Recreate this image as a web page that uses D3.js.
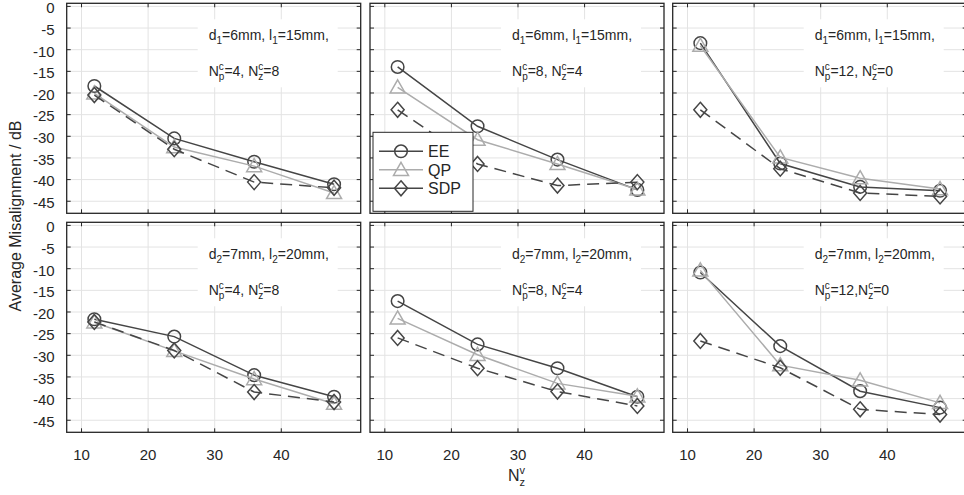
<!DOCTYPE html>
<html><head><meta charset="utf-8">
<script src="https://cdn.jsdelivr.net/npm/d3@7"></script>
<style>
body{margin:0;background:#fff;}
svg{font-family:"Liberation Sans",Arial,sans-serif;display:block;}
</style></head>
<body><svg id="c" width="964" height="495"></svg>
<script>
// ---- data ----
const nzv = [12, 24, 36, 48];
const EE = [
  [-18.5, -30.6, -36.0, -41.2],
  [-14.1, -27.8, -35.5, -42.5],
  [-8.6, -36.4, -41.8, -42.7],
  [-21.8, -25.8, -34.7, -39.7],
  [-17.6, -27.6, -33.1, -39.7],
  [-11.0, -28.0, -38.4, -42.2]
];
const QP = [
  [-20.2, -32.6, -37.0, -43.2],
  [-18.8, -30.9, -36.5, -42.4],
  [-9.2, -35.0, -39.8, -42.3],
  [-22.5, -29.1, -35.6, -41.3],
  [-21.6, -30.0, -36.6, -39.6],
  [-10.5, -32.4, -35.9, -41.1]
];
const SDP = [
  [-20.6, -33.1, -40.7, -42.0],
  [-24.0, -36.5, -41.5, -40.7],
  [-24.0, -37.6, -43.2, -44.0],
  [-22.4, -29.0, -38.6, -40.9],
  [-26.1, -33.1, -38.5, -41.8],
  [-26.8, -33.0, -42.6, -43.8]
];
const seriesNames = ["EE", "QP", "SDP"];
const npc = ["4", "8", "12", "4", "8", "12"];
const nzc = ["8", "4", "0", "8", "4", "0"];
const npSep = [", ", ", ", ", ", ", ", ", ", ","];
const dRow = ["6", "7"];
const lRow = ["15", "20"];
const rowSub = ["1", "2"];
const xTicks = [10, 20, 30, 40];
const yTicks = [0, -5, -10, -15, -20, -25, -30, -35, -40, -45];

// ---- layout ----
const svg = d3.select("#c");
const lefts = [66.7, 370, 672.7];
const tops = [3.3, 222.3];
const W = 294, H = 210;
const x = d3.scaleLinear().domain([7.85, 52]).range([0, W]);
const y = d3.scaleLinear().domain([-47.9, 0.6]).range([H, 0]);
const dark = "#454545", light = "#acacac", axisCol = "#262626", gridCol = "#e3e3e3";
const styles = [
  {c: dark, dash: null, m: "circle"},
  {c: light, dash: null, m: "triangle"},
  {c: dark, dash: "12,7", m: "diamond"}
];
const allData = [EE, QP, SDP];

function marker(g, type, cx, cy, col) {
  if (type === "circle") {
    g.append("circle").attr("cx", cx).attr("cy", cy).attr("r", 6.3)
      .attr("fill", "none").attr("stroke", col).attr("stroke-width", 1.5);
  } else if (type === "triangle") {
    const s = 7.5;
    g.append("path").attr("d", `M${cx},${cy - s}L${cx + s},${cy + s * 0.75}L${cx - s},${cy + s * 0.75}Z`)
      .attr("fill", "none").attr("stroke", col).attr("stroke-width", 1.5);
  } else {
    const a = 6.5, b = 7.5;
    g.append("path").attr("d", `M${cx},${cy - b}L${cx + a},${cy}L${cx},${cy + b}L${cx - a},${cy}Z`)
      .attr("fill", "none").attr("stroke", col).attr("stroke-width", 1.5);
  }
}

for (let r = 0; r < 2; r++) {
  for (let c = 0; c < 3; c++) {
    const idx = r * 3 + c;
    const g = svg.append("g").attr("transform", `translate(${lefts[c]},${tops[r]})`);
    // grid
    g.append("g").attr("transform", `translate(0,${H})`)
      .call(d3.axisBottom(x).tickValues(xTicks).tickSize(-H).tickFormat(""))
      .call(a => { a.select(".domain").remove(); a.selectAll("line").attr("stroke", gridCol); });
    g.append("g")
      .call(d3.axisLeft(y).tickValues(yTicks).tickSize(-W).tickFormat(""))
      .call(a => { a.select(".domain").remove(); a.selectAll("line").attr("stroke", gridCol); });

    // annotation
    const ag = g.append("g").attr("transform", "translate(142,0)");
    ag.append("rect").attr("x", -11).attr("y", 16).attr("width", 140).attr("height", 68).attr("fill", "#fff");
    const fs = 14, ss = 10;
    const t1 = ag.append("text").attr("x", 0).attr("y", 37).attr("font-size", fs).attr("fill", axisCol);
    t1.append("tspan").text("d");
    t1.append("tspan").attr("font-size", ss).attr("dy", 4).text(rowSub[r]);
    t1.append("tspan").attr("dy", -4).text("=" + dRow[r] + "mm, l");
    t1.append("tspan").attr("font-size", ss).attr("dy", 4).text(rowSub[r]);
    t1.append("tspan").attr("dy", -4).text("=" + lRow[r] + "mm,");
    const t2 = ag.append("text").attr("x", 0).attr("y", 73).attr("font-size", fs).attr("fill", axisCol);
    t2.append("tspan").text("N");
    t2.append("tspan").attr("font-size", ss).attr("dy", -6).text("c");
    t2.append("tspan").attr("font-size", ss).attr("dx", -5).attr("dy", 10).text("p");
    t2.append("tspan").attr("dy", -4).text("=" + npc[idx] + npSep[idx] + "N");
    t2.append("tspan").attr("font-size", ss).attr("dy", -6).text("c");
    t2.append("tspan").attr("font-size", ss).attr("dx", -5).attr("dy", 10).text("z");
    t2.append("tspan").attr("dy", -4).text("=" + nzc[idx]);

    // series
    allData.forEach((D, si) => {
      const st = styles[si];
      const vals = D[idx];
      const line = d3.line().x((d, i) => x(nzv[i])).y(d => y(d));
      g.append("path").datum(vals).attr("d", line).attr("fill", "none")
        .attr("stroke", st.c).attr("stroke-width", 1.5)
        .attr("stroke-dasharray", st.dash);
      vals.forEach((v, i) => marker(g, st.m, x(nzv[i]), y(v), st.c));
    });

    // inward ticks
    const tk = a => a.call(s => { s.select(".domain").remove(); s.selectAll("line").attr("stroke", axisCol); });
    g.append("g").attr("transform", `translate(0,${H})`).call(d3.axisBottom(x).tickValues(xTicks).tickSize(-4).tickFormat("")).call(tk);
    g.append("g").call(d3.axisTop(x).tickValues(xTicks).tickSize(-4).tickFormat("")).call(tk);
    g.append("g").call(d3.axisLeft(y).tickValues(yTicks).tickSize(-4).tickFormat("")).call(tk);
    g.append("g").attr("transform", `translate(${W},0)`).call(d3.axisRight(y).tickValues(yTicks).tickSize(-4).tickFormat("")).call(tk);

    // labels
    if (c === 0) {
      g.append("g").attr("transform", "translate(0,2)")
        .call(d3.axisLeft(y).tickValues(yTicks).tickSize(0).tickPadding(12).tickFormat(d => String(d)))
        .call(a => { a.select(".domain").remove(); a.selectAll("text").attr("font-size", 15).attr("fill", axisCol).attr("font-family", "Liberation Sans, Arial, sans-serif"); });
    }
    if (r === 1) {
      g.append("g").attr("transform", `translate(0,${H})`)
        .call(d3.axisBottom(x).tickValues(xTicks).tickSize(0).tickPadding(17).tickFormat(d => String(d)))
        .call(a => { a.select(".domain").remove(); a.selectAll("text").attr("font-size", 15).attr("fill", axisCol).attr("font-family", "Liberation Sans, Arial, sans-serif"); });
    }

    // border
    g.append("rect").attr("width", W).attr("height", H).attr("fill", "none")
      .attr("stroke", axisCol).attr("stroke-width", 1.3);

    // legend
    if (idx === 1) {
      const lg = g.append("g").attr("transform", "translate(3,129)");
      lg.append("rect").attr("width", 100).attr("height", 79).attr("fill", "#fff")
        .attr("stroke", axisCol).attr("stroke-width", 1);
      seriesNames.forEach((nm, si) => {
        const st = styles[si];
        const yy = 19 + si * 18.5;
        lg.append("line").attr("x1", 6).attr("x2", 50).attr("y1", yy).attr("y2", yy)
          .attr("stroke", st.c).attr("stroke-width", 1.5);
        marker(lg, st.m, 28, yy, st.c);
        lg.append("text").attr("x", 55).attr("y", yy).attr("dy", "0.36em")
          .attr("font-size", 16).attr("fill", axisCol).text(nm);
      });
    }
  }
}

// axis titles
const xt = svg.append("text").attr("x", 508).attr("y", 481).attr("font-size", 16).attr("fill", axisCol);
xt.append("tspan").text("N");
xt.append("tspan").attr("font-size", 11).attr("dy", -7).text("v");
xt.append("tspan").attr("font-size", 11).attr("dx", -5.5).attr("dy", 12).text("z");
svg.append("text").attr("transform", "translate(21,216) rotate(-90)")
  .attr("text-anchor", "middle").attr("font-size", 16).attr("fill", axisCol)
  .text("Average Misalignment / dB");
</script></body></html>
